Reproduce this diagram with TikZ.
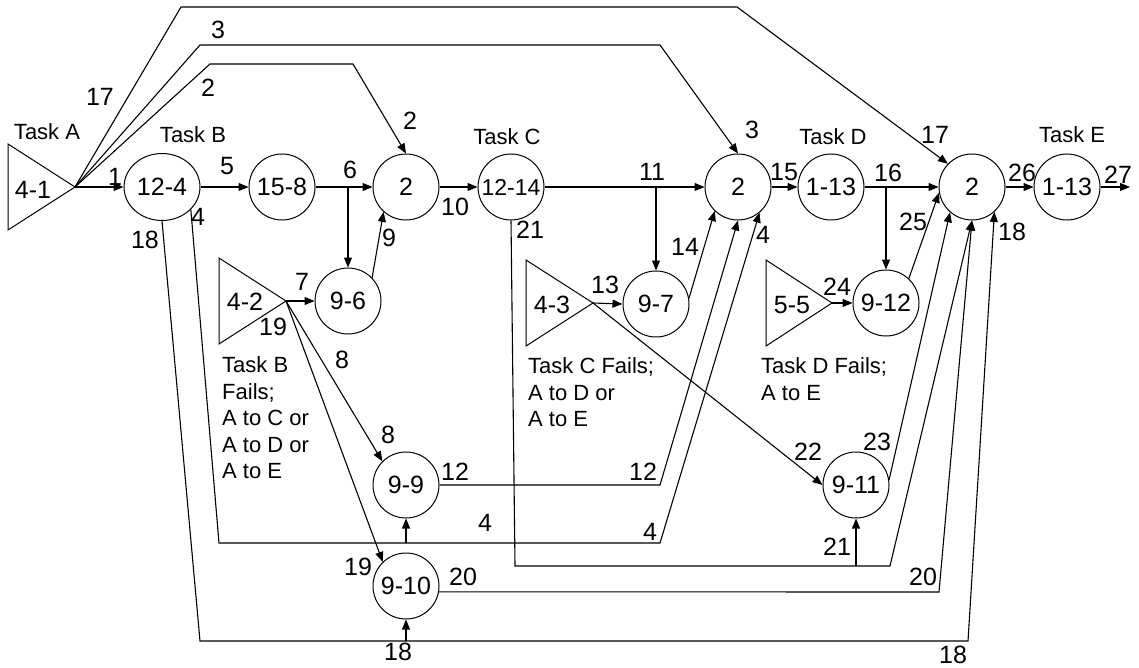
\documentclass[tikz,border=0pt]{standalone}
\usepackage{fontspec}
\setmainfont{Liberation Sans}
\usetikzlibrary{arrows.meta,shapes.geometric}
\tikzset{
  ln/.style={line width=1.1pt},
  arr/.style={line width=1.1pt,-{Triangle[length=10pt,width=8pt]}},
  circ/.style={draw,circle,line width=1pt,minimum size=66pt,inner sep=0pt,font=\fontsize{25}{29}\selectfont},
  tri/.style={draw,line width=1pt},
  lbl/.style={inner sep=0pt,font=\fontsize{25}{29}\selectfont},
  task/.style={inner sep=0pt,font=\fontsize{22}{26.5}\selectfont},
  fails/.style={inner sep=0pt,anchor=north west,align=left,font=\fontsize{22}{26.5}\selectfont}
}
\begin{document}
\begin{tikzpicture}[x=1pt,y=-1pt]
\useasboundingbox (0,0) rectangle (1139,668);

% triangles (decision points)
\coordinate (A1) at (75,187);
\coordinate (A2) at (286,301);
\coordinate (A3) at (593,303);
\coordinate (A5) at (832,303);
\draw[tri] (8,144) -- (A1) -- (8,230) -- cycle;
\draw[tri] (219,258) -- (A2) -- (219,344) -- cycle;
\draw[tri] (526,260) -- (A3) -- (526,346) -- cycle;
\draw[tri] (766,260) -- (A5) -- (766,346) -- cycle;
\node[lbl] (t41) at (33,190) {4-1};
\node[lbl] (t42) at (245,302) {4-2};
\node[lbl] (t43) at (552,305) {4-3};
\node[lbl] (t55) at (792,305) {5-5};

% circles
\node[circ,ellipse,minimum width=76pt,minimum height=67pt] (n124) at (162,187) {12-4};
\node[circ] (n158) at (282,187) {15-8};
\node[circ] (c2a) at (406,187) {2};
\node[circ,font=\fontsize{23}{27}\selectfont] (n1214) at (511,187) {12-14};
\node[circ] (c2b) at (738,187) {2};
\node[circ] (nD) at (831,187) {1-13};
\node[circ] (c2c) at (972,187) {2};
\node[circ] (nE) at (1067,187) {1-13};
\node[circ] (n96) at (348,301) {9-6};
\node[circ] (n97) at (656,304) {9-7};
\node[circ] (n912) at (886,303) {9-12};
\node[circ] (n99) at (406,485) {9-9};
\node[circ] (n910) at (406,586) {9-10};
\node[circ] (n911) at (856,485) {9-11};
\coordinate (outE) at (1130,187);

% task labels
\node[task] (tA) at (47,132) {Task A};
\node[task] (tB) at (193,135) {Task B};
\node[task] (tC) at (507,137) {Task C};
\node[task] (tD) at (833,137) {Task D};
\node[task] (tE) at (1072,135) {Task E};
\node[fails] (fB) at (222,356.5) {Task B\\Fails;\\A to C or\\A to D or\\A to E};
\node[fails] (fC) at (528,357.5) {Task C Fails;\\A to D or\\A to E};
\node[fails] (fD) at (761,357.5) {Task D Fails;\\A to E};

% main chain
\draw[arr] (A1) -- (n124.west);
\draw[arr] (n124.east) -- (n158.west);
\draw[arr] (n158.east) -- (c2a.west);
\draw[arr] (n96.north |- n158.east) -- (n96.north);
\draw[arr] (n96.44) -- (c2a.-132);
\draw[arr] (c2a.east) -- (n1214.west);
\draw[arr] (n1214.east) -- (c2b.west);
\draw[arr] (n97.north |- n1214.east) -- (n97.north);
\draw[arr] (n97.10) -- (c2b.-134);
\draw[arr] (c2b.east) -- (nD.west);
\draw[arr] (nD.east) -- (c2c.west);
\draw[arr] (n912.north |- nD.east) -- (n912.north);
\draw[arr] (n912.47) -- (c2c.-170);
\draw[arr] (c2c.east) -- (nE.west);
\draw[arr] (nE.east) -- (outE);

% top bypass routes
\draw[arr] (A1) -- (210,64) -- (353,64) -- (c2a.north);
\draw[arr] (A1) -- (200,45) -- (660,45) -- (c2b.north);
\draw[arr] (A1) -- (181,7) -- (737,7) -- (c2c.136);

% failure branches
\draw[arr] (A2) -- (n96.west);
\draw[arr] (A2) -- (n99.135);
\draw[arr] (A2) -- (n910.134);
\draw[arr] (A3) -- (n97.west);
\draw[arr] (A3) -- (n911.west);
\draw[arr] (A5) -- (n912.west);

% bottom routes
\coordinate (k4) at (219,543);
\coordinate (k18) at (200,641);
\coordinate (k21) at (515,566);
\draw[arr] (n124.-38) -- (k4) -- (660,543) -- (c2b.-50);
\draw[arr] (n99.south |- k4) -- (n99.south);
\draw[arr] (n124.south) -- (k18) -- (968,641) -- (c2c.-48);
\draw[arr] (n910.south |- k18) -- (n910.south);
\draw[arr] (n99.east) -- (660,485) -- (c2b.south);
\draw[arr] (n1214.south) -- (k21) -- (890,566) -- (c2c.south);
\draw[arr] (n911.south |- k21) -- (n911.south);
\draw[arr] (n910.-10) -- (939,592) -- (c2c.south);
\draw[arr] (n911.9) -- (c2c.-131);

% number labels
\node[lbl] (l17a) at (100,97) {17};
\node[lbl] (l3a) at (218,30) {3};
\node[lbl] (l2a) at (208,88) {2};
\node[lbl] (l1) at (115,177) {1};
\node[lbl] (l5) at (227,166) {5};
\node[lbl] (l6) at (350,170) {6};
\node[lbl] (l2b) at (410,121) {2};
\node[lbl] (l9) at (389,238) {9};
\node[lbl] (l10) at (455,207) {10};
\node[lbl] (l11) at (652,172) {11};
\node[lbl] (l3b) at (752,130) {3};
\node[lbl] (l15) at (784,172) {15};
\node[lbl] (l16) at (888,173) {16};
\node[lbl] (l17b) at (935,135) {17};
\node[lbl] (l26) at (1022,173) {26};
\node[lbl] (l27) at (1118,175) {27};
\node[lbl] (l18a) at (145,240) {18};
\node[lbl] (l4a) at (198,217) {4};
\node[lbl] (l21a) at (530,230) {21};
\node[lbl] (l7) at (302,282) {7};
\node[lbl] (l19a) at (273,327) {19};
\node[lbl] (l14) at (685,247) {14};
\node[lbl] (l4b) at (763,235) {4};
\node[lbl] (l13) at (605,285) {13};
\node[lbl] (l25) at (913,222) {25};
\node[lbl] (l18b) at (1012,232) {18};
\node[lbl] (l24) at (837,287) {24};
\node[lbl] (l8a) at (342,360) {8};
\node[lbl] (l8b) at (388,435) {8};
\node[lbl] (l12a) at (455,472) {12};
\node[lbl] (l4c) at (485,523) {4};
\node[lbl] (l19b) at (358,567) {19};
\node[lbl] (l20a) at (463,577) {20};
\node[lbl] (l18c) at (398,652) {18};
\node[lbl] (l22) at (808,452) {22};
\node[lbl] (l23) at (877,442) {23};
\node[lbl] (l12b) at (643,472) {12};
\node[lbl] (l4d) at (650,532) {4};
\node[lbl] (l21b) at (837,547) {21};
\node[lbl] (l20b) at (923,577) {20};
\node[lbl] (l18d) at (953,655) {18};
\end{tikzpicture}
\end{document}
